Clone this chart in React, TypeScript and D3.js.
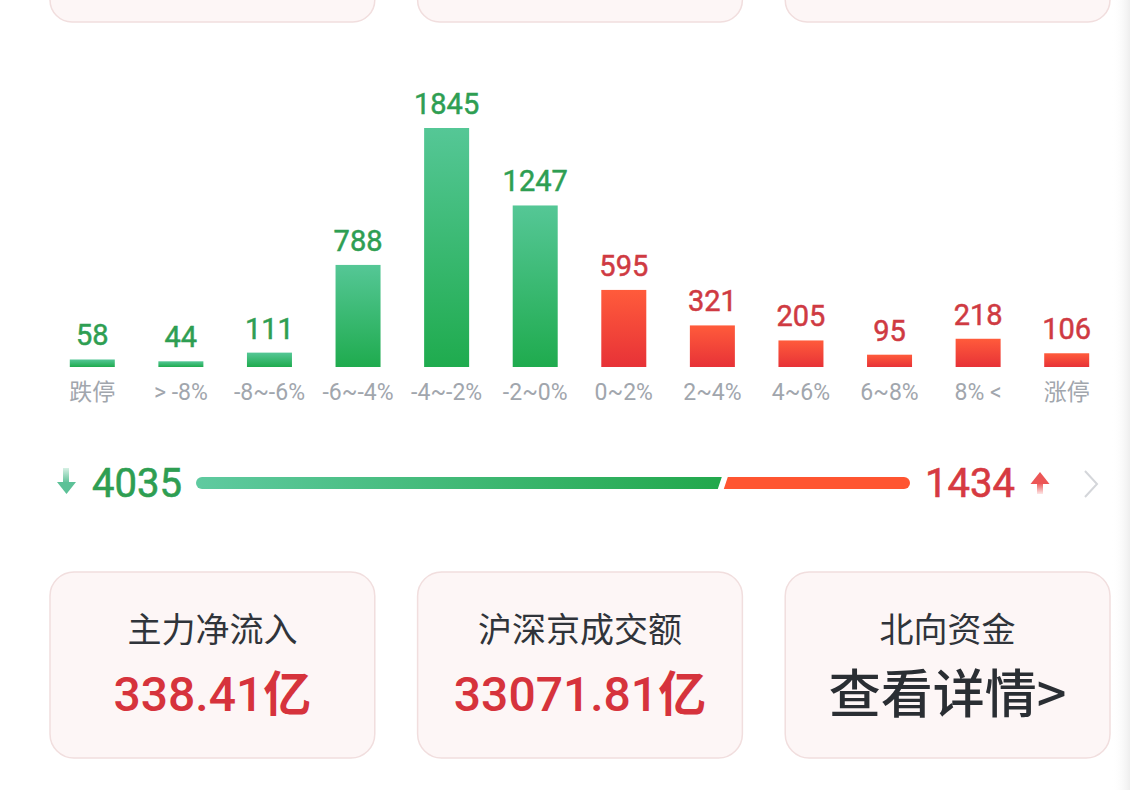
import React from "react";
import * as d3 from "d3";

const categories = ["跌停", "> -8%", "-8~-6%", "-6~-4%", "-4~-2%", "-2~0%", "0~2%", "2~4%", "4~6%", "6~8%", "8% <", "涨停"];
const counts = [58, 44, 111, 788, 1845, 1247, 595, 321, 205, 95, 218, 106];
const side = ["down", "down", "down", "down", "down", "down", "up", "up", "up", "up", "up", "up"];
const totals = [4035, 1434];
const cardTitles = ["主力净流入", "沪深京成交额", "北向资金"];
const cardNumbers = ["338.41", "33071.81", ""];
const cardUnits = ["亿", "亿", "查看详情>"];

const W = 1130;
const H = 790;
const NUM = "Roboto, 'DejaVu Sans', sans-serif";
const CJK = "'Noto Sans CJK SC', 'Noto Sans', sans-serif";

export default function App() {
  const x = d3.scaleBand<string>().domain(categories).range([48, 1111]).paddingInner(0.492).paddingOuter(0.246);
  const y = d3.scaleLinear().domain([0, 1845]).range([367, 128]);

  const bx = d3.scaleLinear().domain([0, totals[0] + totals[1]]).range([196, 910]);
  const split = bx(totals[0]);
  const by0 = 477, by1 = 489, r = 6, sl = 2, gap = 3;
  const greenPath = `M${bx(0) + r},${by0} L${split - gap + sl},${by0} L${split - gap - sl},${by1} L${bx(0) + r},${by1} A${r},${r} 0 0 1 ${bx(0) + r},${by0} Z`;
  const redPath = `M${split + gap + sl},${by0} L${bx(totals[0] + totals[1]) - r},${by0} A${r},${r} 0 0 1 ${bx(totals[0] + totals[1]) - r},${by1} L${split + gap - sl},${by1} Z`;

  const cx = d3.scaleBand<string>().domain(cardTitles).range([50, 1110]).paddingInner(0.1165);

  return (
    <svg width={W} height={H} style={{ position: "fixed", left: 0, top: 0, background: "#fff" }}>
      <defs>
        <linearGradient id="gGreen" x1="0" y1="0" x2="0" y2="1">
          <stop offset="0" stopColor="#55c796" />
          <stop offset="1" stopColor="#1fab4e" />
        </linearGradient>
        <linearGradient id="gRed" x1="0" y1="0" x2="0" y2="1">
          <stop offset="0" stopColor="#ff5b3b" />
          <stop offset="1" stopColor="#e73237" />
        </linearGradient>
        <linearGradient id="gBarGreen" x1="0" y1="0" x2="1" y2="0">
          <stop offset="0" stopColor="#5fcaa0" />
          <stop offset="1" stopColor="#22a84c" />
        </linearGradient>
        <linearGradient id="gArrowDown" x1="0" y1="0" x2="0" y2="1">
          <stop offset="0" stopColor="#d6f0e4" />
          <stop offset="1" stopColor="#5cc197" />
        </linearGradient>
        <linearGradient id="gArrowUp" x1="0" y1="0" x2="0" y2="1">
          <stop offset="0" stopColor="#ec5656" />
          <stop offset="1" stopColor="#fde6e6" />
        </linearGradient>
        <linearGradient id="gEdge" x1="0" y1="0" x2="1" y2="0">
          <stop offset="0" stopColor="#ffffff" stopOpacity="0" />
          <stop offset="1" stopColor="#eeeeee" />
        </linearGradient>
      </defs>
      <rect x={0} y={0} width={W} height={H} fill="#fff" />

      {/* top cards (partially visible) */}
      {cardTitles.map((t) => (
        <rect key={"top" + t} x={cx(t)} y={-180} width={cx.bandwidth()} height={202} rx={22} fill="#fdf6f6" stroke="#f1dede" strokeWidth={1.5} />
      ))}

      {/* bars */}
      {categories.map((c, i) => {
        const down = side[i] === "down";
        const x0 = x(c) as number;
        const cxm = x0 + x.bandwidth() / 2;
        return (
          <g key={c}>
            <rect x={x0} y={y(counts[i])} width={x.bandwidth()} height={y(0) - y(counts[i])} fill={down ? "url(#gGreen)" : "url(#gRed)"} />
            <text x={cxm} y={y(counts[i]) - 14} textAnchor="middle" fontFamily={NUM} fontWeight={400} fontSize={29} stroke={down ? "#2e9e52" : "#cf3a42"} strokeWidth={0.5} fill={down ? "#2e9e52" : "#cf3a42"}>
              {counts[i]}
            </text>
            <text x={cxm} y={400} textAnchor="middle" fontFamily={/[\u4e00-\u9fff]/.test(c) ? CJK : NUM} fontSize={23} fill="#a1a6ad">
              {c}
            </text>
          </g>
        );
      })}

      {/* ratio bar */}
      <rect x={63} y={468} width={6} height={15} fill="url(#gArrowDown)" />
      <path d="M57,482 L76,482 L66.5,494 Z" fill="#5cc197" />
      <text x={92} y={497} fontFamily={NUM} fontWeight={400} fontSize={40} stroke="#2e9e52" strokeWidth={0.6} fill="#2e9e52">{totals[0]}</text>
      <path d={greenPath} fill="url(#gBarGreen)" />
      <path d={redPath} fill="#ff5531" />
      <text x={925} y={497} fontFamily={NUM} fontWeight={400} fontSize={40} stroke="#d63a41" strokeWidth={0.6} fill="#d63a41">{totals[1]}</text>
      <rect x={1037} y={483} width={6} height={11} fill="url(#gArrowUp)" />
      <path d="M1030.5,484 L1049.5,484 L1040,472 Z" fill="#ec5656" />
      <path d="M1085,471 L1097,484 L1085,497" fill="none" stroke="#d4d6da" strokeWidth={2} />

      {/* bottom cards */}
      {cardTitles.map((t, i) => {
        const x0 = cx(t) as number;
        const mid = x0 + cx.bandwidth() / 2;
        const isLink = cardNumbers[i] === "";
        return (
          <g key={t}>
            <rect x={x0} y={572} width={cx.bandwidth()} height={186} rx={24} fill="#fdf6f6" stroke="#f1dede" strokeWidth={1.5} />
            <text x={mid} y={642} textAnchor="middle" fontFamily={CJK} fontSize={34} fill="#30343a">{t}</text>
            <text x={mid} y={isLink ? 713 : 711} textAnchor="middle" fontSize={isLink ? 52 : 48} fill={isLink ? "#2a2e33" : "#d6333c"}>
              {!isLink && <tspan fontFamily={NUM} fontWeight={500}>{cardNumbers[i]}</tspan>}
              <tspan fontFamily={CJK} fontWeight={isLink ? 500 : 700}>{cardUnits[i]}</tspan>
            </text>
          </g>
        );
      })}

      <rect x={1112} y={0} width={18} height={H} fill="url(#gEdge)" />
    </svg>
  );
}
